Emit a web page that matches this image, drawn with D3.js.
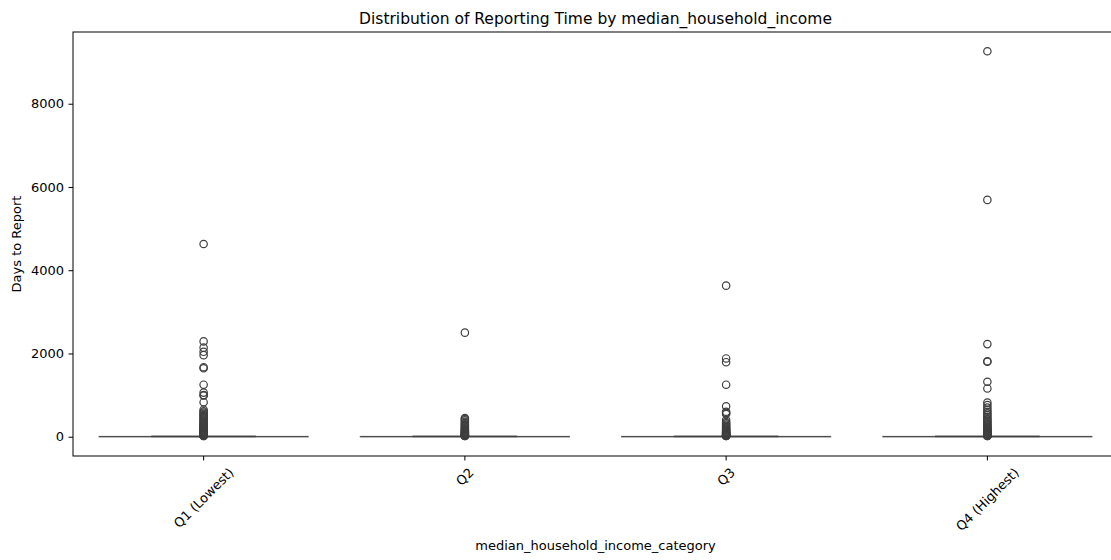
<!DOCTYPE html>
<html>
<head>
<meta charset="utf-8">
<script src="https://cdn.jsdelivr.net/npm/d3@7"></script>
<style>
  html, body { margin: 0; padding: 0; background: #fff; }
  svg { display: block; font-family: "DejaVu Sans", sans-serif; }
</style>
</head>
<body>
<svg id="chart" width="1111" height="560"></svg>
<script>
// Income quartile categories
const categories = ["Q1 (Lowest)", "Q2", "Q3", "Q4 (Highest)"];

// Box summary per category (days to report)
const whiskerLow  = [0, 0, 0, 0];
const boxQ1       = [0, 0, 0, 0];
const boxMedian   = [2, 2, 2, 2];
const boxQ3       = [6, 6, 6, 6];
const whiskerHigh = [14, 14, 14, 14];

// Outliers beyond the whiskers, per category
const outliersQ1 = [4630, 2290, 2140, 2040, 1960, 1670, 1645, 1250, 1060, 1000, 990, 830,
  650, 610, 580, 550, 520, 495, 470, 440, 415, 390, 365, 340, 320, 300, 280, 262, 245, 230,
  215, 200, 186, 172, 160, 148, 136, 125, 115, 105, 96, 88, 80, 72, 65, 58, 52, 46, 41,
  36, 32, 28, 25, 22, 19, 17];
const outliersQ2 = [2500, 450, 425, 395, 360, 330, 300, 275, 250, 225, 205, 185, 165, 148,
  132, 118, 105, 93, 82, 72, 63, 55, 48, 41, 35, 30, 26, 22, 19, 17];
const outliersQ3 = [3630, 1880, 1790, 1250, 730, 600, 575, 545, 400, 350, 320, 290, 262,
  236, 212, 190, 170, 152, 136, 121, 108, 96, 85, 75, 66, 58, 50, 43, 37, 32, 27, 23, 19, 17];
const outliersQ4 = [9260, 5690, 2225, 1815, 1800, 1320, 1160, 820, 760, 700, 645, 600, 560,
  520, 480, 445, 410, 380, 350, 320, 292, 266, 242, 220, 200, 182, 165, 150, 136, 123, 111,
  100, 90, 80, 71, 63, 55, 48, 42, 36, 31, 26, 22, 19, 17];
const outliers = [outliersQ1, outliersQ2, outliersQ3, outliersQ4];

// Y tick values
const yTicks = [0, 2000, 4000, 6000, 8000];

const titleText = "Distribution of Reporting Time by median_household_income";
const xLabel = "median_household_income_category";
const yLabel = "Days to Report";

const svg = d3.select("#chart");
const plot = { left: 73, right: 1118, top: 32, bottom: 456 };

// Band scale: each category occupies one unit; boxes take 80% of it
const x = d3.scaleBand().domain(categories).range([plot.left, plot.right]).paddingInner(0).paddingOuter(0);
const boxW = x.bandwidth() * 0.8;
const capW = boxW * 0.5;

// Y extent over all values with a 5% margin on both ends
const allVals = outliers.flat().concat(whiskerLow, whiskerHigh);
const yMin = d3.min(allVals), yMax = d3.max(allVals);
const pad = (yMax - yMin) * 0.05;
const y = d3.scaleLinear().domain([yMin - pad, yMax + pad]).range([plot.bottom, plot.top]);

const lineColor = "#3f3f3f";

// Boxes
categories.forEach((c, i) => {
  const cx = x(c) + x.bandwidth() / 2;
  const g = svg.append("g");
  // whiskers
  g.append("line").attr("x1", cx).attr("x2", cx).attr("y1", y(boxQ3[i])).attr("y2", y(whiskerHigh[i]))
    .attr("stroke", lineColor).attr("stroke-width", 1.5);
  g.append("line").attr("x1", cx).attr("x2", cx).attr("y1", y(boxQ1[i])).attr("y2", y(whiskerLow[i]))
    .attr("stroke", lineColor).attr("stroke-width", 1.5);
  // box
  g.append("rect")
    .attr("x", cx - boxW / 2).attr("width", boxW)
    .attr("y", y(boxQ3[i])).attr("height", Math.max(0, y(boxQ1[i]) - y(boxQ3[i])))
    .attr("fill", "#1f77b4").attr("stroke", lineColor).attr("stroke-width", 1.2).attr("stroke-opacity", 0.75);
  // caps
  [whiskerLow[i], whiskerHigh[i]].forEach(v => {
    g.append("line").attr("x1", cx - capW / 2).attr("x2", cx + capW / 2).attr("y1", y(v)).attr("y2", y(v))
      .attr("stroke", lineColor).attr("stroke-width", 1.2).attr("stroke-opacity", 0.8);
  });
  // median
  g.append("line").attr("x1", cx - boxW / 2).attr("x2", cx + boxW / 2).attr("y1", y(boxMedian[i])).attr("y2", y(boxMedian[i]))
    .attr("stroke", lineColor).attr("stroke-width", 1.2).attr("stroke-opacity", 0.6);
  // outliers
  g.selectAll("circle").data(outliers[i]).join("circle")
    .attr("cx", cx).attr("cy", d => y(d)).attr("r", 3.7)
    .attr("fill", "none").attr("stroke", lineColor).attr("stroke-width", 1.2);
});

// Frame
svg.append("rect")
  .attr("x", plot.left).attr("y", plot.top)
  .attr("width", plot.right - plot.left).attr("height", plot.bottom - plot.top)
  .attr("fill", "none").attr("stroke", "#000").attr("stroke-width", 1);

// Y axis
const yAxis = svg.append("g").attr("transform", `translate(${plot.left},0)`)
  .call(d3.axisLeft(y).tickValues(yTicks).tickSize(4.5).tickPadding(4.5).tickFormat(d3.format("d")));
yAxis.select(".domain").remove();
yAxis.selectAll("text").attr("font-size", 13).attr("fill", "#000").attr("font-family", "DejaVu Sans");
yAxis.selectAll("line").attr("stroke", "#000");

// X axis
const xAxis = svg.append("g").attr("transform", `translate(0,${plot.bottom})`)
  .call(d3.axisBottom(x).tickSize(4.5).tickPadding(4.5));
xAxis.select(".domain").remove();
xAxis.selectAll("line").attr("stroke", "#000");
xAxis.selectAll("text").each(function(d) {
  const t = d3.select(this);
  t.attr("font-size", 13).attr("fill", "#000").attr("font-family", "DejaVu Sans")
   .attr("dy", null).attr("y", null).attr("text-anchor", "middle").attr("dominant-baseline", "central");
  const L = this.getComputedTextLength();
  const h = 13 * 1.15;
  const bboxH = (L + h) / Math.SQRT2;
  const top = 4.5 + 4.5;
  t.attr("transform", `translate(0,${top + bboxH / 2}) rotate(-45)`);
});

// Title and axis labels
svg.append("text").attr("x", (plot.left + plot.right) / 2).attr("y", 24)
  .attr("text-anchor", "middle").attr("font-size", 15.5).attr("fill", "#000").text(titleText);
svg.append("text").attr("x", (plot.left + plot.right) / 2).attr("y", 550)
  .attr("text-anchor", "middle").attr("font-size", 13).attr("fill", "#000").text(xLabel);
svg.append("text").attr("transform", `translate(21,${(plot.top + plot.bottom) / 2}) rotate(-90)`)
  .attr("text-anchor", "middle").attr("font-size", 13).attr("fill", "#000").text(yLabel);
</script>
</body>
</html>
